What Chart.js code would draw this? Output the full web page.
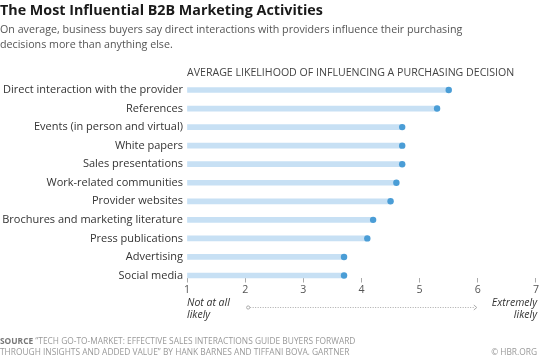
<!DOCTYPE html>
<html><head><meta charset="utf-8">
<script src="https://cdn.jsdelivr.net/npm/chart.js@4.4.1/dist/chart.umd.min.js"></script>
<style>
html,body{margin:0;padding:0;background:#fff;}
#wrap{position:relative;width:540px;height:355px;overflow:hidden;font-family:"Open Sans",sans-serif;}
#c{position:absolute;left:0;top:0;}
.t{position:absolute;white-space:nowrap;}
#title{left:0;top:1px;font-weight:700;font-size:14.3px;line-height:18px;color:#1a1a1a;}
#sub{left:0;top:22px;font-size:10.7px;line-height:14.5px;color:#555;}
#axt{left:187px;top:65px;font-size:10.6px;line-height:14px;color:#444;}
#lo{left:187px;top:297px;font-style:italic;font-size:10.5px;line-height:11.5px;color:#333;}
#hi{right:3px;top:297px;font-style:italic;font-size:10.5px;line-height:11.5px;color:#333;text-align:right;}
#src{left:0;top:335px;font-size:8.4px;line-height:11px;color:#999;}
#src b{color:#777;font-weight:700;}
#cr{right:3px;top:346px;font-size:8.4px;line-height:11px;color:#999;}
</style></head>
<body>
<div id="wrap">
<canvas id="c" width="540" height="355"></canvas>
<div class="t" id="title">The Most Influential B2B Marketing Activities</div>
<div class="t" id="sub">On average, business buyers say direct interactions with providers influence their purchasing<br>decisions more than anything else.</div>
<div class="t" id="axt">AVERAGE LIKELIHOOD OF INFLUENCING A PURCHASING DECISION</div>
<div class="t" id="lo">Not at all<br>likely</div>
<div class="t" id="hi">Extremely<br>likely</div>
<div class="t" id="src"><b>SOURCE</b> “TECH GO-TO-MARKET: EFFECTIVE SALES INTERACTIONS GUIDE BUYERS FORWARD<br>THROUGH INSIGHTS AND ADDED VALUE” BY HANK BARNES AND TIFFANI BOVA, GARTNER</div>
<div class="t" id="cr">© HBR.ORG</div>
</div>
<script>
const categories = [
  "Direct interaction with the provider",
  "References",
  "Events (in person and virtual)",
  "White papers",
  "Sales presentations",
  "Work-related communities",
  "Provider websites",
  "Brochures and marketing literature",
  "Press publications",
  "Advertising",
  "Social media"
];
const likelihood = [5.5, 5.3, 4.7, 4.7, 4.7, 4.6, 4.5, 4.2, 4.1, 3.7, 3.7];
const scaleMin = 1;
const scaleMax = 7;
const tickValues = [1, 2, 3, 4, 5, 6, 7];

const arrowPlugin = {
  id: 'arrow',
  afterDraw(chart) {
    const x = chart.scales.x;
    const ctx = chart.ctx;
    const x0 = x.getPixelForValue(2) + 3;
    const x1 = x.getPixelForValue(6) - 1;
    const y = 307.5;
    ctx.save();
    ctx.strokeStyle = '#aaa';
    ctx.fillStyle = '#fff';
    ctx.lineWidth = 1;
    ctx.setLineDash([1, 1.5]);
    ctx.beginPath();
    ctx.moveTo(x0 + 2, y);
    ctx.lineTo(x1 - 2, y);
    ctx.stroke();
    ctx.setLineDash([]);
    ctx.beginPath();
    ctx.arc(x0, y, 1.6, 0, Math.PI * 2);
    ctx.fill();
    ctx.stroke();
    ctx.beginPath();
    ctx.moveTo(x1 - 3, y - 2.5);
    ctx.lineTo(x1, y);
    ctx.lineTo(x1 - 3, y + 2.5);
    ctx.stroke();
    ctx.restore();
  }
};

new Chart(document.getElementById('c'), {
  type: 'bar',
  data: {
    labels: categories,
    datasets: [
      {
        type: 'line',
        indexAxis: 'y',
        data: likelihood,
        showLine: false,
        pointRadius: 3.2,
        pointHoverRadius: 3.2,
        pointBackgroundColor: '#4a9dd6',
        pointBorderWidth: 0,
        clip: false,
        order: 0
      },
      {
        type: 'bar',
        data: likelihood,
        base: scaleMin,
        backgroundColor: '#c7e0f4',
        barThickness: 5,
        borderWidth: 0,
        clip: false,
        order: 1
      }
    ]
  },
  options: {
    indexAxis: 'y',
    responsive: false,
    animation: false,
    devicePixelRatio: 1,
    layout: { padding: { top: 90, left: 0, right: 3, bottom: 49.5 } },
    plugins: { legend: { display: false }, tooltip: { enabled: false } },
    scales: {
      x: {
        type: 'linear',
        min: scaleMin,
        max: scaleMax,
        afterBuildTicks(scale) { scale.ticks = tickValues.map(v => ({ value: v })); },
        afterFit(scale) { scale.height = 30; },
        border: { display: false },
        grid: {
          display: true,
          drawOnChartArea: false,
          color: '#aaa',
          tickLength: 7,
          tickBorderDash: [0, 2, 4.5, 40]
        },
        ticks: {
          padding: 1,
          color: '#555',
          font: { family: 'Open Sans', size: 10.6 }
        }
      },
      y: {
        offset: false,
        afterFit(scale) { scale.width = 187; },
        border: { display: false },
        grid: { display: false, drawTicks: false },
        ticks: {
          padding: 4,
          color: '#333',
          font: { family: 'Open Sans', size: 11 }
        }
      }
    }
  },
  plugins: [arrowPlugin]
});
</script>
</body></html>
